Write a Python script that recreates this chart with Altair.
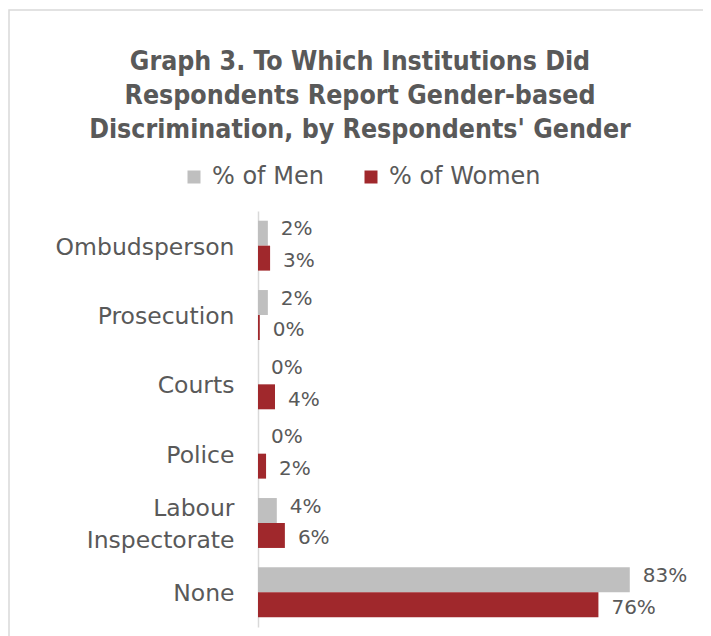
import altair as alt
import pandas as pd

categories = ["Ombudsperson", "Prosecution", "Courts", "Police", "Labour Inspectorate", "None"]
men = [2.2, 2.2, 0.0, 0.0, 4.2, 83.0]
women = [2.7, 0.4, 3.8, 1.8, 6.0, 76.0]
series = ["% of Men", "% of Women"]
colors = ["#BFBFBF", "#A0282C"]
title_lines = [
    "Graph 3. To Which Institutions Did",
    "Respondents Report Gender-based",
    "Discrimination, by Respondents' Gender",
]

rows = []
for c, m, w in zip(categories, men, women):
    rows.append({"cat": c, "series": series[0], "v": m})
    rows.append({"cat": c, "series": series[1], "v": w})
df = pd.DataFrame(rows)
df["label"] = df["v"].round().astype(int).astype(str) + "%"

TXT = "#595959"

y_enc = alt.Y(
    "cat:N",
    sort=categories,
    scale=alt.Scale(paddingInner=0.28, paddingOuter=0.14),
    axis=alt.Axis(
        title=None, ticks=False, grid=False, domainColor="#D9D9D9", domainWidth=1.5,
        labelFontSize=23.5, labelColor=TXT, labelFont="DejaVu Sans", labelPadding=24,
        labelLineHeight=32, labelLimit=300,
        labelOffset={"condition": {"test": "datum.value == 'Labour Inspectorate'", "value": -14}, "value": 2},
        labelExpr="datum.label == 'Labour Inspectorate' ? ['Labour', 'Inspectorate'] : datum.label",
    ),
)
x_enc = alt.X("v:Q", scale=alt.Scale(domain=[0, 96]), axis=None)
yoff = alt.YOffset("series:N", sort=series)

base = alt.Chart(df).encode(y=y_enc, x=x_enc, yOffset=yoff)

bars = base.mark_bar().encode(
    color=alt.Color(
        "series:N",
        scale=alt.Scale(domain=series, range=colors),
        legend=alt.Legend(
            title=None, orient="none", legendX=-76, legendY=-46, direction="horizontal",
            symbolType="square", symbolSize=169, symbolStrokeWidth=0,
            labelFontSize=24, labelColor=TXT, labelFont="DejaVu Sans",
            columnPadding=35, labelOffset=6,
        ),
    )
)

men_txt = base.mark_text(align="left", baseline="middle", dx=13, dy=-4, fontSize=20,
                         color=TXT, font="DejaVu Sans").encode(text="label:N").transform_filter(
    alt.datum.series == series[0])
women_txt = base.mark_text(align="left", baseline="middle", dx=13, dy=3, fontSize=20,
                           color=TXT, font="DejaVu Sans").encode(text="label:N").transform_filter(
    alt.datum.series == series[1])

frame = alt.Chart(alt.Data(values=[{"a": 1}])).mark_rect(
    filled=False, stroke="#D9D9D9", strokeWidth=1.5
).encode(x=alt.value(-249), x2=alt.value(470), y=alt.value(-201), y2=alt.value(440))

chart = alt.layer(frame, bars, men_txt, women_txt).properties(
    width=430,
    height=416,
    title=alt.Title(
        title_lines, font="DejaVu Sans Condensed", fontSize=26.5, fontWeight="bold",
        color=TXT, lineHeight=34, anchor="middle", dx=-113, offset=-134,
    ),
    autosize=alt.AutoSizeParams(type="none"),
    padding={"left": 250, "top": 203, "right": 15, "bottom": 9},
).configure_view(stroke=None)

chart.save("out.html", embed_options={"renderer": "svg", "actions": False})
